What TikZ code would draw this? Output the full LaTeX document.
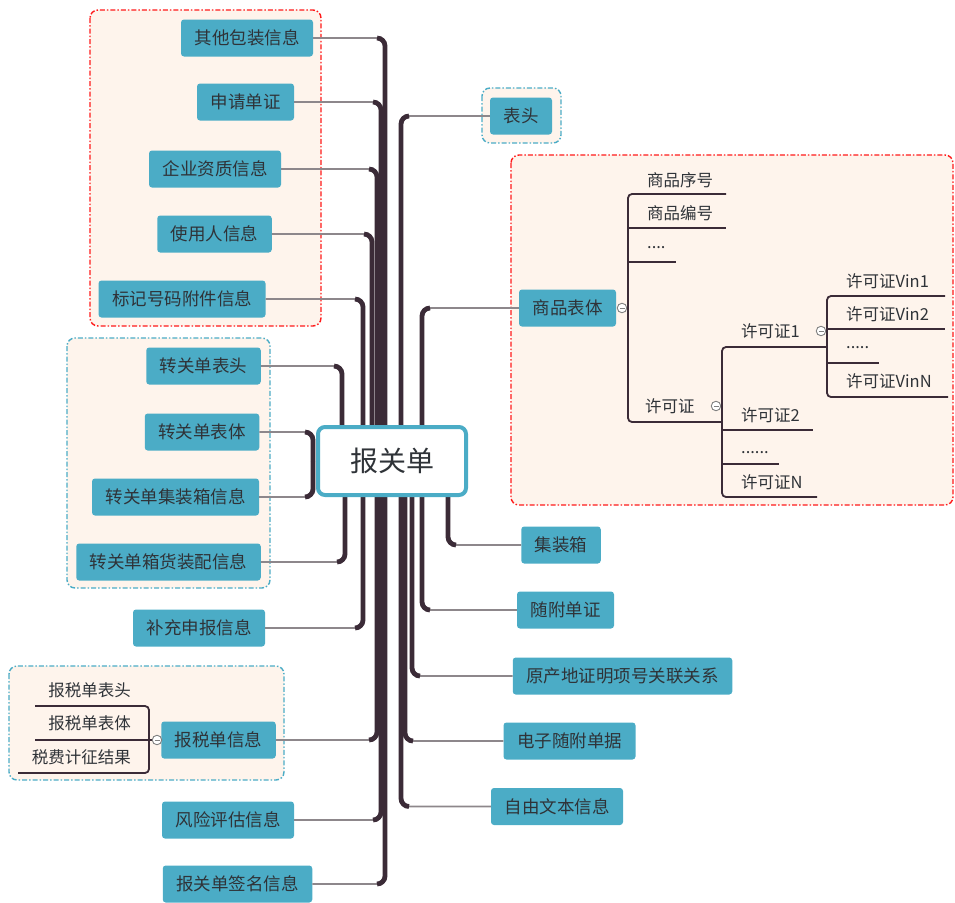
\documentclass[tikz,border=0pt]{standalone}
\usepackage{fontspec}
\setmainfont{Noto Sans CJK SC}
\usetikzlibrary{calc}
\definecolor{teal1}{HTML}{4BACC6}
\definecolor{boxfill}{HTML}{FEF4EC}
\definecolor{red1}{HTML}{FF1A1A}
\definecolor{trunkc}{HTML}{3B2B37}
\definecolor{twigc}{HTML}{8D878B}
\definecolor{txt}{HTML}{2F3338}
\newcommand\Lbr[2]{%
  \draw[twig] let \p1=(#2.east) in (#1,461) -- (#1,\y1) -- (\p1);
  \draw[trunk] let \p1=(#2.east) in (#1,461) -- (#1,\y1) -- ({#1-8},\y1);}
\newcommand\Rbr[2]{%
  \draw[twig] let \p1=(#2.west) in (#1,461) -- (#1,\y1) -- (\p1);
  \draw[trunk] let \p1=(#2.west) in (#1,461) -- (#1,\y1) -- ({#1+8},\y1);}
\begin{document}
\begin{tikzpicture}[x=1pt,y=-1pt,
  topic/.style={fill=teal1, rounded corners=3pt, text=txt, font=\fontsize{17.5}{20}\selectfont,
    minimum height=37pt, inner xsep=13.5pt, inner ysep=0pt},
  subt/.style={text=txt, font=\fontsize{16.5}{19}\selectfont, inner sep=0pt},
  trunk/.style={draw=trunkc, line width=4.8pt, rounded corners=8pt},
  twig/.style={draw=twigc, line width=1.8pt, rounded corners=8pt},
  subline/.style={draw=trunkc, line width=1.8pt, rounded corners=4pt},
  grp/.style={fill=boxfill, line width=1.4pt, dash pattern=on 5pt off 2pt on 1.5pt off 2pt, rounded corners=8pt},
  circ/.style={circle, draw=gray, fill=white, line width=0.9pt, minimum size=9.5pt, inner sep=0pt,
    path picture={\draw[gray, line width=0.9pt] ([xshift=-2.5pt]path picture bounding box.center) -- ([xshift=2.5pt]path picture bounding box.center);}},
]
\useasboundingbox (0,0) rectangle (955,902);
% group frames
\draw[grp, draw=red1] (90,10) rectangle (321,326);
\draw[grp, draw=teal1] (67,338) rectangle (270,588);
\draw[grp, draw=teal1] (9,666) rectangle (284,780);
\draw[grp, draw=teal1] (482,88) rectangle (561,143);
\draw[grp, draw=red1] (511,155) rectangle (953,505);

% left topics
\node[topic] (n1) at (247,38) {其他包装信息};
\node[topic] (n2) at (245.5,102) {申请单证};
\node[topic] (n3) at (215,169) {企业资质信息};
\node[topic] (n4) at (214.5,234) {使用人信息};
\node[topic] (n5) at (182,299) {标记号码附件信息};
\node[topic] (n6) at (203.5,366) {转关单表头};
\node[topic] (n7) at (202,432) {转关单表体};
\node[topic] (n8) at (175.5,497) {转关单集装箱信息};
\node[topic] (n9) at (168.5,562) {转关单箱货装配信息};
\node[topic] (n10) at (199,628) {补充申报信息};
\node[topic] (n11) at (218.5,740) {报税单信息};
\node[topic] (n12) at (228,820) {风险评估信息};
\node[topic] (n13) at (237.5,884) {报关单签名信息};
% right topics
\node[topic] (r1) at (521,116) {表头};
\node[topic] (r2) at (567.5,308) {商品表体};
\node[topic] (r3) at (561,545) {集装箱};
\node[topic] (r4) at (565.5,610) {随附单证};
\node[topic] (r5) at (622.5,676) {原产地证明项号关联关系};
\node[topic] (r6) at (569.5,741) {电子随附单据};
\node[topic] (r7) at (557,806.5) {自由文本信息};

% branches
\Lbr{385}{n1}
\Lbr{381}{n2}
\Lbr{377}{n3}
\Lbr{372}{n4}
\Lbr{363}{n5}
\Lbr{342}{n6}
\Lbr{313}{n7}
\Lbr{313}{n8}
\Lbr{345}{n9}
\Lbr{363}{n10}
\Lbr{377}{n11}
\Lbr{381}{n12}
\Lbr{385}{n13}
\Rbr{401}{r1}
\Rbr{422}{r2}
\Rbr{448}{r3}
\Rbr{422}{r4}
\Rbr{412}{r5}
\Rbr{405}{r6}
\Rbr{401}{r7}

% root
\node[draw=teal1, line width=4pt, fill=white, rounded corners=7pt, minimum width=148pt,
  minimum height=68pt, font=\fontsize{28}{32}\selectfont, text=txt] (root) at (392,461) {报关单};

% 商品表体 subtree
\node[subt, anchor=west] (s1) at (647,180) {商品序号};
\node[subt, anchor=west] (s2) at (647,213) {商品编号};
\node[subt, anchor=west] (s3) at (647,248) {....};
\node[subt, anchor=west] (s4) at (645,406) {许可证};
\draw[subline] (726,194) -- (628,194) -- (628,422) -- (722,422);
\draw[subline] (628,228) -- (726,228);
\draw[subline] (628,262) -- (676,262);
\node[circ] (c1) at (622,308) {};
\draw[subline] (c1) -- (628,308);
\node[circ] (c2) at (716,406) {};

\node[subt, anchor=west] (p1) at (741,331) {许可证1};
\node[subt, anchor=west] (p2) at (741,415) {许可证2};
\node[subt, anchor=west] (p3) at (741,453) {......};
\node[subt, anchor=west] (p4) at (741,482) {许可证N};
\draw[subline] (827,347) -- (722,347) -- (722,497) -- (817,497);
\draw[subline] (722,430) -- (813,430);
\draw[subline] (722,464) -- (779,464);
\node[circ] (c3) at (821,331) {};

\node[subt, anchor=west] (v1) at (846,281) {许可证Vin1};
\node[subt, anchor=west] (v2) at (846,314) {许可证Vin2};
\node[subt, anchor=west] (v3) at (846,348) {.....};
\node[subt, anchor=west] (v4) at (846,381) {许可证VinN};
\draw[subline] (945,296) -- (827,296) -- (827,397) -- (948,397);
\draw[subline] (827,329) -- (945,329);
\draw[subline] (827,363) -- (879,363);

% 报税单信息 subtree
\node[subt, anchor=east] (t1) at (131,690) {报税单表头};
\node[subt, anchor=east] (t2) at (131,723) {报税单表体};
\node[subt, anchor=east] (t3) at (131,757) {税费计征结果};
\draw[subline] (35,706) -- (149,706) -- (149,773) -- (18,773);
\draw[subline] (35,740) -- (152,740);
\node[circ] (c4) at (157,740) {};
\end{tikzpicture}
\end{document}
